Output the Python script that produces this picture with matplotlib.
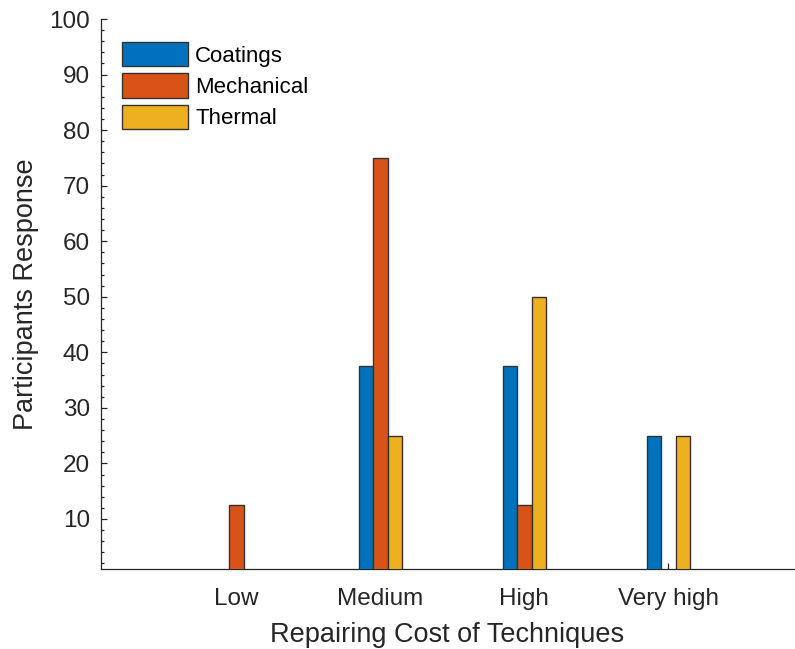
import numpy as np
import matplotlib
matplotlib.use('Agg')
import matplotlib.pyplot as plt
from matplotlib.ticker import MultipleLocator

plt.rcParams['font.family'] = ['Liberation Sans', 'DejaVu Sans']

# survey answers per cost level
categories = ['Low', 'Medium', 'High', 'Very high']
coatings = [0, 37.5, 37.5, 25]
mechanical = [12.5, 75, 12.5, 0]
thermal = [0, 25, 50, 25]

series = [('Coatings', coatings, '#0072BD'),
          ('Mechanical', mechanical, '#D95319'),
          ('Thermal', thermal, '#EDB120')]

ink = '#262626'
fig = plt.figure(figsize=(7.95, 6.49), dpi=100)
ax = fig.add_axes([0.127, 0.1233, 0.8717, 0.8474])

x = np.arange(1, len(categories) + 1)
w = 0.1
for i, (name, vals, col) in enumerate(series):
    ax.bar(x + (i - 1) * w, vals, width=w, color=col, edgecolor='#333333',
           linewidth=1.0, label=name, zorder=3)

ax.set_xlim(0.059, 4.872)
ax.set_ylim(1, 100)
ax.set_xticks(x)
ax.set_xticklabels(categories)
ax.set_yticks(np.arange(10, 101, 10))
ax.yaxis.set_minor_locator(MultipleLocator(2))

for s in ['top', 'right']:
    ax.spines[s].set_visible(False)
for s in ['left', 'bottom']:
    ax.spines[s].set_color(ink)
    ax.spines[s].set_linewidth(0.9)

ax.tick_params(axis='both', which='major', direction='in', length=4.5,
               width=0.9, color=ink, labelcolor=ink, labelsize=17.5, pad=8)
ax.tick_params(axis='y', which='minor', direction='in', length=2.3,
               width=0.9, color=ink)
ax.tick_params(axis='x', pad=14)

ax.set_xlabel('Repairing Cost of Techniques', fontsize=19.5, color=ink, labelpad=8)
ax.set_ylabel('Participants Response', fontsize=19.5, color=ink, labelpad=7)

leg = ax.legend(loc='upper left', bbox_to_anchor=(0.031, 0.958), frameon=False,
                fontsize=16, handlelength=2.97, handleheight=1.3,
                labelspacing=0.3, handletextpad=0.3, borderpad=0,
                borderaxespad=0)
for t in leg.get_texts():
    t.set_color('black')

fig.savefig('out.png', dpi=100)
